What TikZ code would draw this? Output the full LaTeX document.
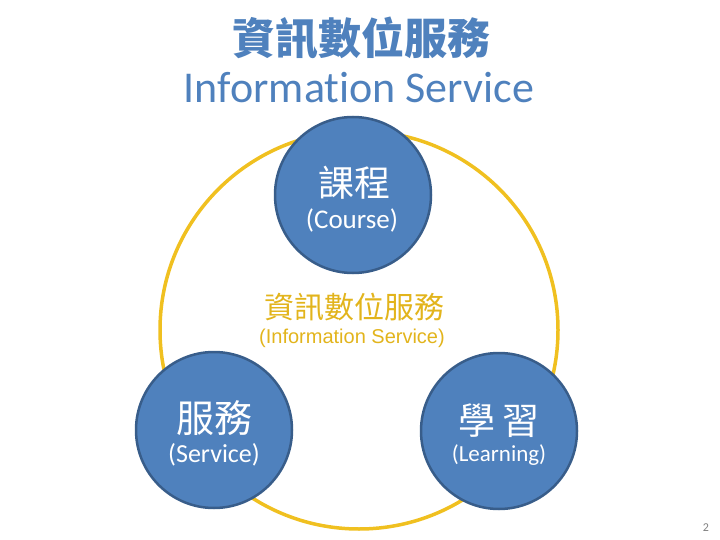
\documentclass[tikz,border=0pt]{standalone}
\usepackage{fontspec}
\setmainfont[Ligatures={NoCommon}]{Carlito}
\newfontfamily\cjk{Noto Sans CJK TC}
\newfontfamily\arial{Liberation Sans}
\definecolor{topicblue}{HTML}{4F81BD}
\definecolor{topicedge}{HTML}{385D8A}
\definecolor{ringgold}{HTML}{F0C020}
\definecolor{textgold}{HTML}{E2B41C}
\definecolor{pagegray}{HTML}{7F7F7F}
\tikzset{
  topic/.style={circle,draw=topicedge,line width=2.5pt,fill=topicblue,
    minimum size=156pt,inner sep=0pt},
  topiczh/.style={text=white,inner sep=0pt,font=\cjk\fontsize{36}{40}\selectfont},
  topicen/.style={text=white,inner sep=0pt},
}
\begin{document}
\begin{tikzpicture}[x=1pt,y=-1pt]
\useasboundingbox (0,0) rectangle (720,540);
% title
\node[text=topicblue,inner sep=0pt,font=\cjk\bfseries\fontsize{43}{46}\selectfont] (titlezh) at (361,38) {資訊數位服務};
\node[text=topicblue,inner sep=0pt,font=\fontsize{44}{48}\selectfont] (titleen) at (359,88) {Information Service};
% ring
\node[circle,draw=ringgold,line width=3.5pt,minimum size=398pt,inner sep=0pt] (ring) at (359,330) {};
% centre text
\node[text=textgold,inner sep=0pt,font=\cjk\fontsize{30}{34}\selectfont] (centrezh) at (354,307) {資訊數位服務};
\node[text=textgold,inner sep=0pt,font=\arial\fontsize{20}{24}\selectfont] (centreen) at (352,338) {(Information Service)};
% three topics
\node[topic] (course) at (353,195) {};
\node[topic] (service) at (214,430) {};
\node[topic] (learning) at (499,431) {};
\node[topiczh] (coursezh) at (354,183) {課程};
\node[topicen,font=\fontsize{27}{30}\selectfont] (courseen) at (352,220) {(Course)};
\node[topiczh,font=\cjk\fontsize{38}{42}\selectfont] (servicezh) at (214,418) {服務};
\node[topicen,font=\fontsize{26}{30}\selectfont] (serviceen) at (214,455) {(Service)};
\node[topiczh,font=\cjk\fontsize{37}{42}\selectfont] (learningzh) at (499,421) {學\,習};
\node[topicen,font=\fontsize{23}{26}\selectfont] (learningen) at (499,455) {(Learning)};
% page number
\node[text=pagegray,inner sep=0pt,font=\fontsize{12}{14}\selectfont] (pagenum) at (706,528) {2};
\end{tikzpicture}
\end{document}
